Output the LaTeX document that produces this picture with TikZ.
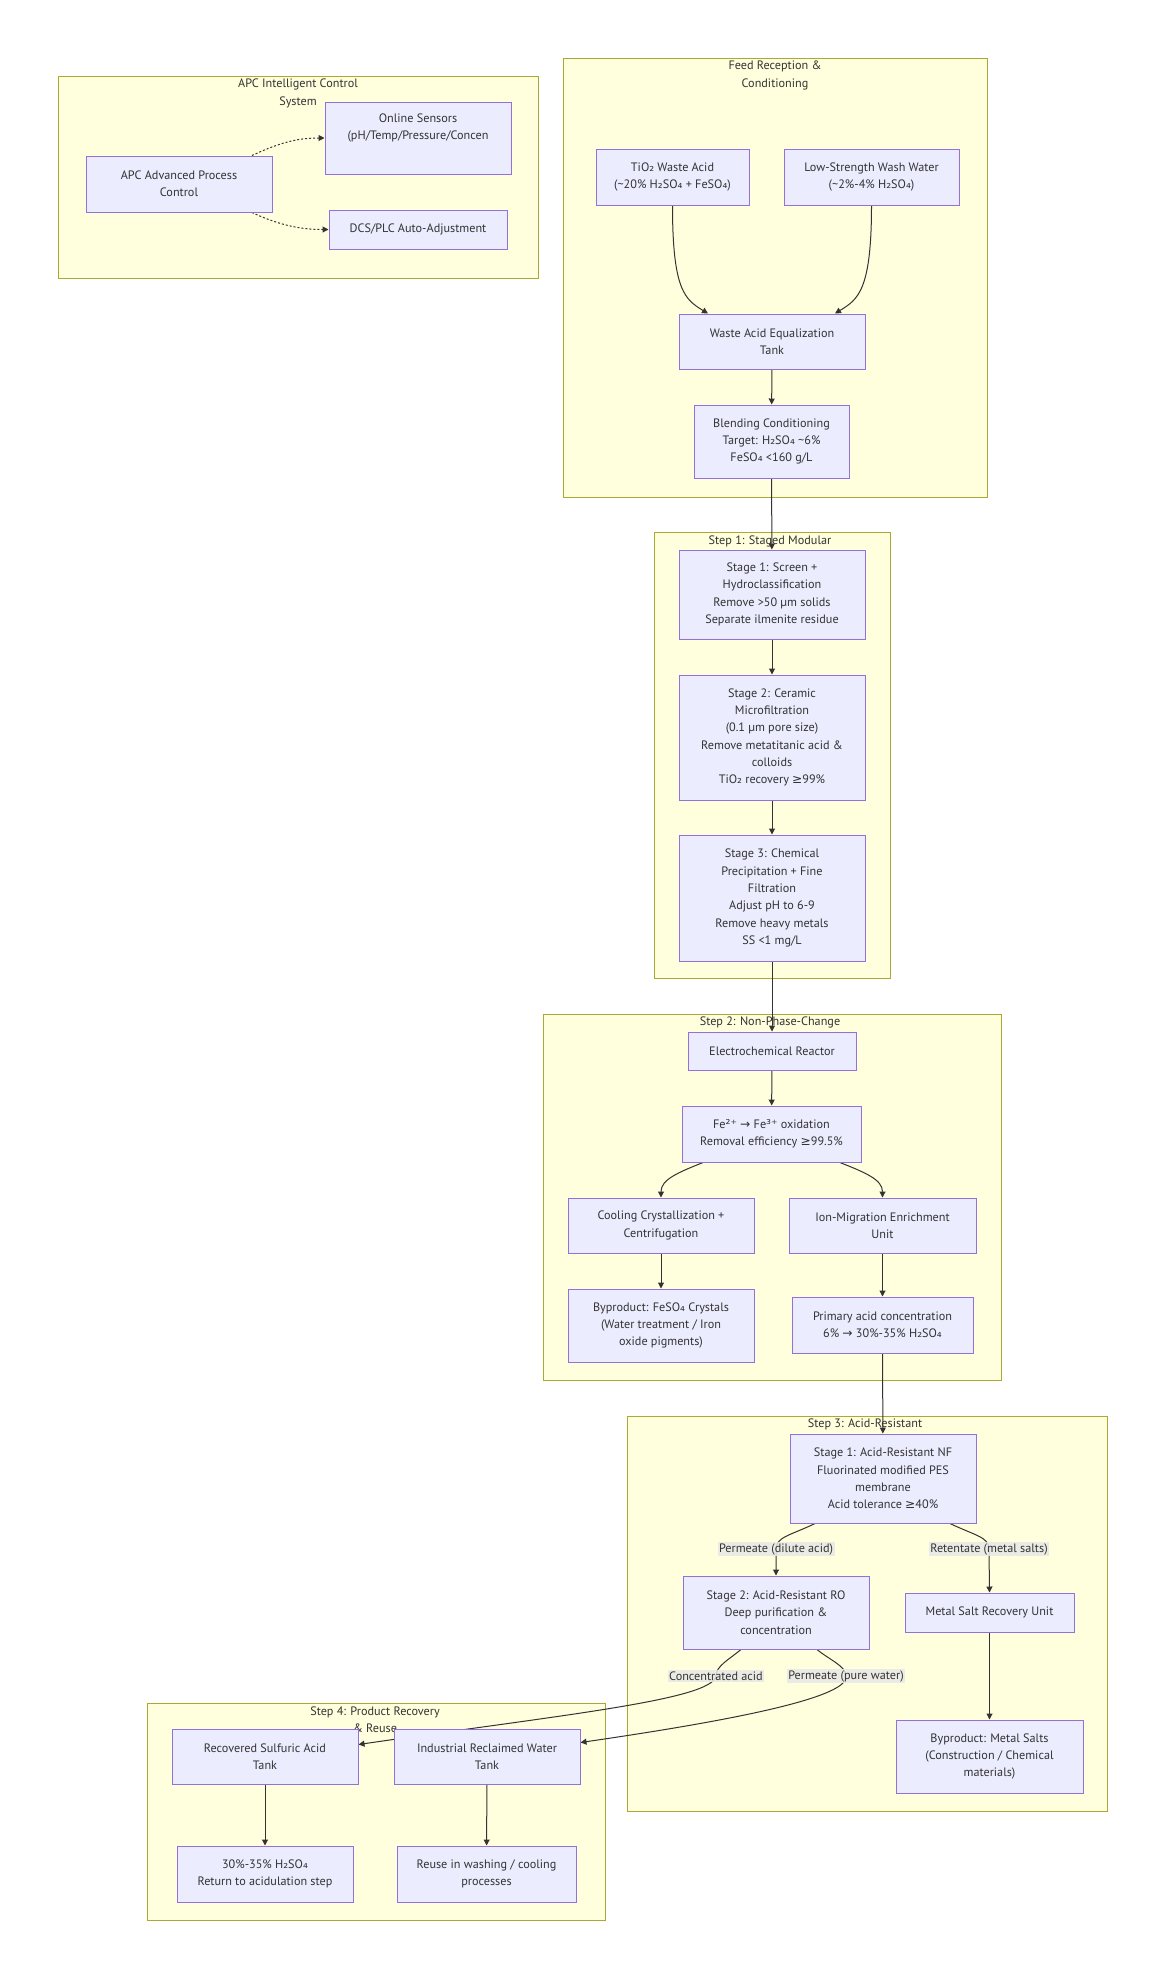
\documentclass[tikz,border=0pt]{standalone}
\usepackage{fontspec}
\setmainfont{PT Sans}
\newfontfamily\dvfont{DejaVu Sans}
\newcommand{\dv}[1]{{\dvfont #1}}
\usetikzlibrary{positioning,arrows.meta,calc}
\definecolor{nodefill}{HTML}{ECECFF}
\definecolor{nodeline}{HTML}{9370DB}
\definecolor{clusterfill}{HTML}{FFFFDE}
\definecolor{clusterline}{HTML}{AAAA33}
\definecolor{edgeline}{HTML}{333333}
\definecolor{labelfill}{HTML}{E8E8E8}
\pgfdeclarelayer{bg}
\pgfdeclarelayer{edges}
\pgfsetlayers{bg,edges,main}

\begin{document}
\begin{tikzpicture}[x=1pt,y=-1pt,
  box/.style={draw=nodeline,fill=nodefill,line width=1pt,align=center,text=edgeline,
    font=\fontsize{12.2}{17.3}\selectfont,inner sep=0pt},
  sz/.style 2 args={minimum width=#1pt,minimum height=#2pt},
  cluster/.style={draw=clusterline,fill=clusterfill,line width=1pt},
  ctitle/.style={align=center,text=edgeline,font=\fontsize{12.2}{17.3}\selectfont,inner sep=0pt},
  arr/.style={-{Triangle[length=6pt,width=6pt]},draw=edgeline,line width=1pt},
  dotarr/.style={arr,dash pattern=on 2pt off 2pt},
  lab/.style={fill=labelfill,fill opacity=0.85,text opacity=1,text=edgeline,
    font=\fontsize{12.2}{17.3}\selectfont,inner sep=1.5pt}]

% subgraphs
\begin{pgfonlayer}{bg}
\fill[white] (0,0) rectangle (1166,1979);
\draw[cluster] (58,76) rectangle (538,278);
\node[ctitle] (tapc) at (298,93.5) {APC Intelligent Control\\System};
\draw[cluster] (563,58) rectangle (987,497);
\node[ctitle] (tfeed) at (775,75.5) {Feed Reception \&\\Conditioning};
\draw[cluster] (654,532) rectangle (890,978);
\node[ctitle] (tstepone) at (770,541) {Step 1: Staged Modular};
\draw[cluster] (543,1014) rectangle (1001,1380);
\node[ctitle] (tsteptwo) at (770,1022) {Step 2: Non-Phase-Change};
\draw[cluster] (627,1416) rectangle (1107,1811);
\node[ctitle] (tstepthree) at (865,1424) {Step 3: Acid-Resistant};
\draw[cluster] (147,1703) rectangle (605,1920);
\node[ctitle] (tstepfour) at (375,1719.5) {Step 4: Product Recovery\\\& Reuse};
\end{pgfonlayer}

% APC
\node[box,sz={186}{56}] (apc) at (179,184) {APC Advanced Process\\Control};
\node[box,sz={186}{72}] (sensors) at (418,138) {Online Sensors\\(pH/Temp/Pressure/Concen\\\strut};
\node[box,sz={178}{39}] (dcs) at (418,229.5) {DCS/PLC Auto-Adjustment};

% feed
\node[box,sz={153}{56}] (tio) at (672.5,177) {TiO\dv{₂} Waste Acid\\(\textasciitilde20\% H\dv{₂}SO\dv{₄} + FeSO\dv{₄})};
\node[box,sz={175}{56}] (wash) at (871.5,177) {Low-Strength Wash Water\\(\textasciitilde2\%-4\% H\dv{₂}SO\dv{₄})};
\node[box,sz={186}{55}] (eqt) at (772,341.5) {Waste Acid Equalization\\Tank};
\node[box,sz={155}{73}] (blend) at (771.5,441.5) {Blending Conditioning\\Target: H\dv{₂}SO\dv{₄} \textasciitilde6\%\\FeSO\dv{₄} <160 g/L};

% step 1
\node[box,sz={186}{89}] (sone) at (772,594.5) {Stage 1: Screen +\\Hydroclassification\\Remove >50 µm solids\\Separate ilmenite residue};
\node[box,sz={186}{125}] (stwo) at (772,737.5) {Stage 2: Ceramic\\Microfiltration\\(0.1 µm pore size)\\Remove metatitanic acid \&\\colloids\\TiO\dv{₂} recovery \dv{≥}99\%};
\node[box,sz={186}{126}] (sthree) at (772,898) {Stage 3: Chemical\\Precipitation + Fine\\Filtration\\Adjust pH to 6-9\\Remove heavy metals\\SS <1 mg/L};

% step 2
\node[box,sz={168}{38}] (ecr) at (772,1051) {Electrochemical Reactor};
\node[box,sz={179}{56}] (feox) at (771.5,1134) {Fe\dv{²⁺} \dv{→} Fe\dv{³⁺} oxidation\\Removal efficiency \dv{≥}99.5\%};
\node[box,sz={186}{55}] (cool) at (661,1225.5) {Cooling Crystallization +\\Centrifugation};
\node[box,sz={187}{55}] (ion) at (882.5,1225.5) {Ion-Migration Enrichment\\Unit};
\node[box,sz={186}{73}] (feso) at (661,1325.5) {Byproduct: FeSO\dv{₄} Crystals\\(Water treatment / Iron\\oxide pigments)};
\node[box,sz={181}{56}] (prim) at (882.5,1325) {Primary acid concentration\\6\% \dv{→} 30\%-35\% H\dv{₂}SO\dv{₄}};

% step 3
\node[box,sz={186}{89}] (nf) at (883,1478.5) {Stage 1: Acid-Resistant NF\\Fluorinated modified PES\\membrane\\Acid tolerance \dv{≥}40\%};
\node[box,sz={186}{73}] (ro) at (776,1612.5) {Stage 2: Acid-Resistant RO\\Deep purification \&\\concentration};
\node[box,sz={169}{39}] (msr) at (989.5,1612.5) {Metal Salt Recovery Unit};
\node[box,sz={187}{73}] (msalt) at (989.5,1756.5) {Byproduct: Metal Salts\\(Construction / Chemical\\materials)};

% step 4
\node[box,sz={186}{55}] (acidtank) at (265,1756.5) {Recovered Sulfuric Acid\\Tank};
\node[box,sz={186}{55}] (watertank) at (487,1756.5) {Industrial Reclaimed Water\\Tank};
\node[box,sz={176}{56}] (acidret) at (265,1874) {30\%-35\% H\dv{₂}SO\dv{₄}\\Return to acidulation step};
\node[box,sz={179}{56}] (reuse) at (486.5,1874) {Reuse in washing / cooling\\processes};

% edge labels
\node[lab] (ldil) at (776,1549) {Permeate (dilute acid)};
\node[lab] (lret) at (989,1549) {Retentate (metal salts)};
\node[lab] (lconc) at (716,1676) {Concentrated acid};
\node[lab] (lpure) at (846,1676) {Permeate (pure water)};

\begin{pgfonlayer}{edges}
\draw[dotarr] ($(apc.north)+(73,0)$) .. controls +(30,-14) and +(-25,0) .. (sensors.west);
\draw[dotarr] ($(apc.south)+(73,0)$) .. controls +(30,14) and +(-25,0) .. (dcs.west);
\draw[arr] (tio.south) .. controls +(0,85) and +(-23,-14) .. ($(eqt.north)+(-64,0)$);
\draw[arr] (wash.south) .. controls +(0,85) and +(23,-14) .. ($(eqt.north)+(63,0)$);
\draw[arr] (eqt) -- (blend);
\draw[arr] (blend) -- (sone);
\draw[arr] (sone) -- (stwo);
\draw[arr] (stwo) -- (sthree);
\draw[arr] (sthree) -- (ecr);
\draw[arr] (ecr) -- (feox);
\draw[arr] ($(feox.south)+(-68.5,0)$) .. controls +(-25,10) and +(0,-18) .. (cool.north);
\draw[arr] ($(feox.south)+(68.5,0)$) .. controls +(25,10) and +(0,-18) .. (ion.north);
\draw[arr] (cool) -- (feso);
\draw[arr] (ion) -- (prim);
\draw[arr] (prim) -- (nf);
\draw[arr] ($(nf.south)+(-68,0)$) .. controls +(-25,12) and +(0,-12) .. (ldil.center) -- (ro.north);
\draw[arr] ($(nf.south)+(67,0)$) .. controls +(25,12) and +(0,-12) .. (lret.center) -- (msr.north);
\draw[arr] (msr) -- (msalt);
\draw[arr] ($(ro.south)+(-35,0)$) .. controls +(-12,10) and +(0,-10) .. (lconc.center)
  .. controls +(-4,24) and +(202,-29.5) .. ($(acidtank.east)+(0,-12)$);
\draw[arr] ($(ro.south)+(41,0)$) .. controls +(12,10) and +(0,-10) .. (lpure.center)
  .. controls +(4,24) and +(120,-17.5) .. ($(watertank.east)+(0,-14)$);
\draw[arr] (acidtank) -- (acidret);
\draw[arr] (watertank) -- (reuse);
\end{pgfonlayer}
\end{tikzpicture}
\end{document}
